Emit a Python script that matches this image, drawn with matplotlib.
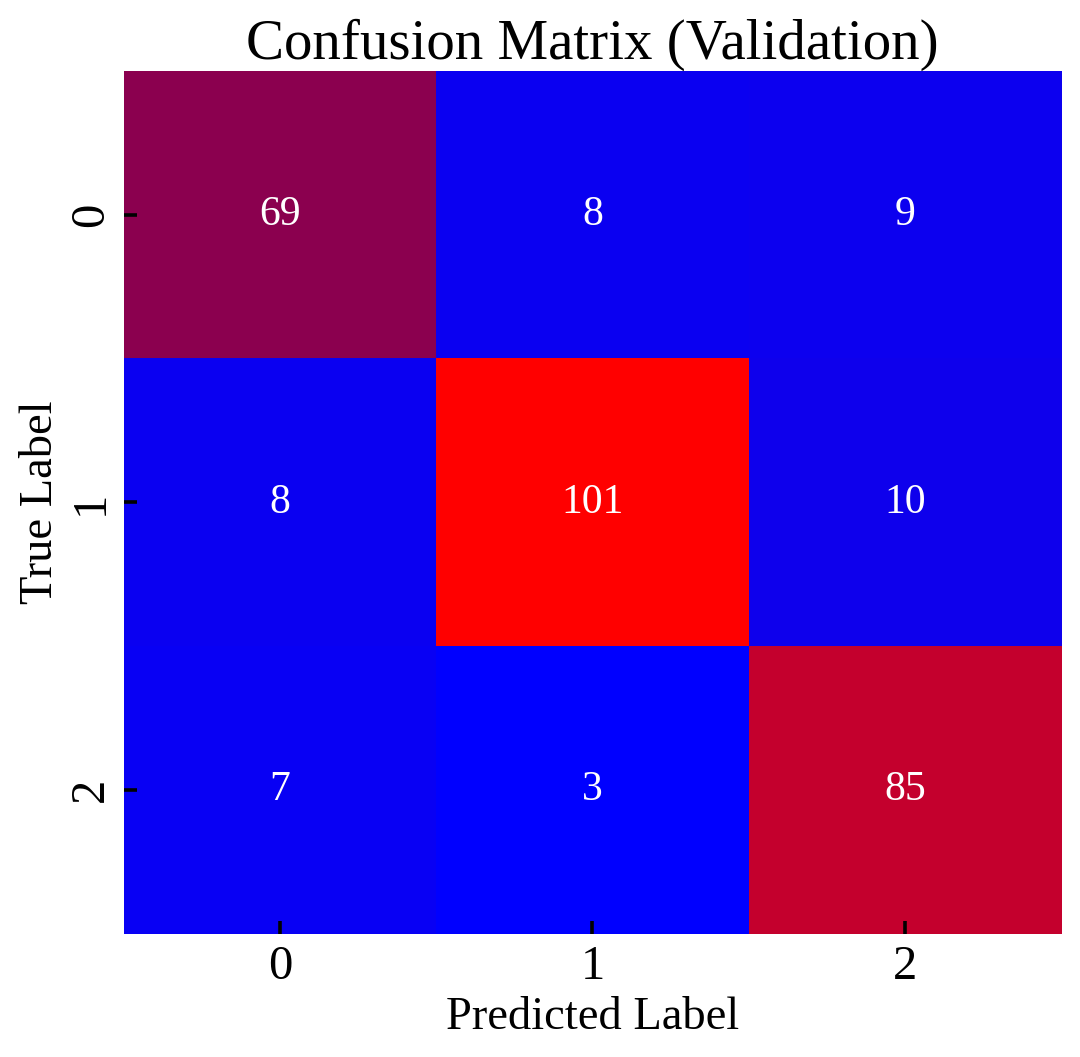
import numpy as np
import matplotlib
matplotlib.use("Agg")
import matplotlib.pyplot as plt
from matplotlib.colors import LinearSegmentedColormap, Normalize

# datos de la matriz de confusion
labels = ["0", "1", "2"]
row0 = [69, 8, 9]
row1 = [8, 101, 10]
row2 = [7, 3, 85]

cm = np.array([row0, row1, row2])

plt.rcParams['font.family'] = ['Liberation Serif', 'DejaVu Serif']

vmin, vmax = cm.min(), cm.max()
# mapa de color azul -> morado oscuro -> rojo
p1 = (69 - vmin) / (vmax - vmin)
p2 = (85 - vmin) / (vmax - vmin)
cmap = LinearSegmentedColormap.from_list(
    "bluered",
    [(0.0, "#0000ff"), (p1, "#8b0050"), (p2, "#c4002e"), (1.0, "#ff0000")])

fig = plt.figure(figsize=(10.8, 10.57), dpi=100)
ax = fig.add_axes([0.1148, 0.1164, 0.8676, 0.8164])

ax.imshow(cm, cmap=cmap, norm=Normalize(vmin, vmax), aspect="auto",
          interpolation="nearest")

for i in range(cm.shape[0]):
    for j in range(cm.shape[1]):
        ax.text(j, i, str(cm[i, j]), ha="center", va="center",
                color="white", fontsize=30)

ax.set_xticks(range(len(labels)))
ax.set_yticks(range(len(labels)))
ax.set_xticklabels(labels, fontsize=35)
ax.set_yticklabels(labels, fontsize=35, rotation=90, va="center")
ax.tick_params(direction="in", length=9.5, width=2.6, color="black", pad=8)

for s in ax.spines.values():
    s.set_visible(False)

ax.set_title("Confusion Matrix (Validation)", fontsize=41, pad=5)
ax.set_xlabel("Predicted Label", fontsize=33.5, labelpad=5)
ax.set_ylabel("True Label", fontsize=33.5, labelpad=5)

fig.savefig("out.png", dpi=100)
